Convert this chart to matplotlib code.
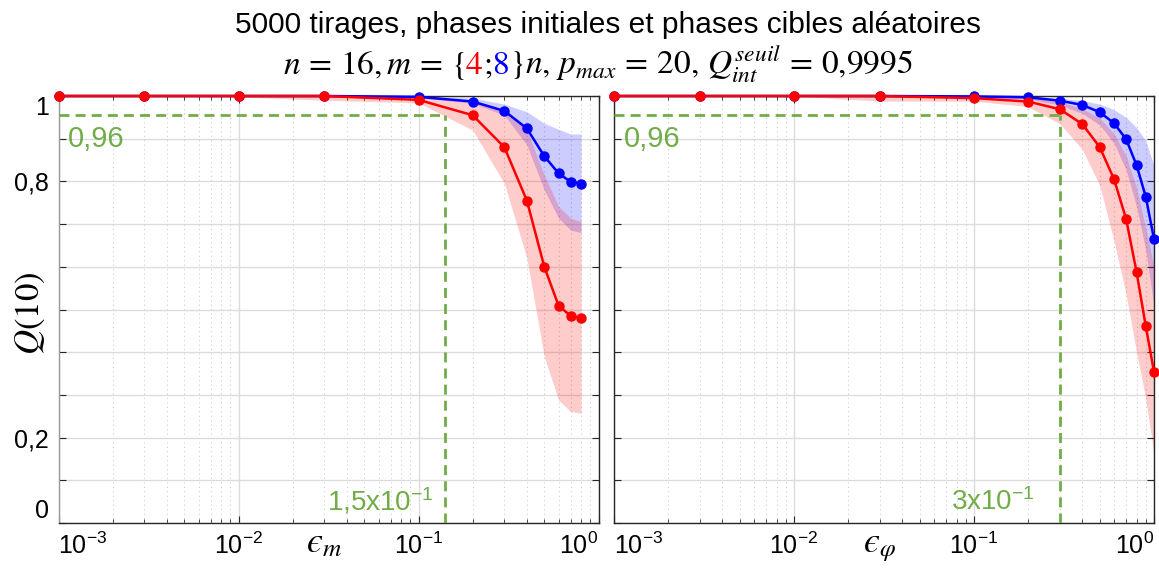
import numpy as np
import matplotlib
matplotlib.use("Agg")
import matplotlib.pyplot as plt
from matplotlib import transforms
from matplotlib.ticker import LogLocator, NullFormatter

plt.rcParams['font.family'] = ['Liberation Sans', 'DejaVu Sans']
plt.rcParams['mathtext.fontset'] = 'stix'

# --- data ---
eps_m = [0.001, 0.003, 0.01, 0.03, 0.1, 0.2, 0.3, 0.4, 0.5, 0.6, 0.7, 0.8]
q_m8 = [1.0, 1.0, 1.0, 1.0, 0.998, 0.987, 0.965, 0.924, 0.859, 0.819, 0.799, 0.795]
q_m8_hi = [1.0, 1.0, 1.0, 1.0, 1.0, 0.995, 0.981, 0.963, 0.936, 0.922, 0.911, 0.911]
q_m8_lo = [1.0, 1.0, 1.0, 0.999, 0.996, 0.983, 0.955, 0.885, 0.780, 0.714, 0.686, 0.680]
q_m4 = [1.0, 1.0, 1.0, 1.0, 0.991, 0.955, 0.880, 0.755, 0.600, 0.509, 0.485, 0.480]
q_m4_hi = [1.0, 1.0, 1.0, 1.0, 0.998, 0.989, 0.967, 0.920, 0.815, 0.741, 0.714, 0.706]
q_m4_lo = [1.0, 1.0, 0.998, 0.99, 0.984, 0.920, 0.795, 0.620, 0.389, 0.288, 0.261, 0.257]

eps_phi = [0.001, 0.003, 0.01, 0.03, 0.1, 0.2, 0.3, 0.4, 0.5, 0.6, 0.7, 0.8, 0.9, 1.0]
p_m8 = [1.0, 1.0, 1.0, 1.0, 0.999, 0.997, 0.989, 0.979, 0.962, 0.936, 0.899, 0.838, 0.764, 0.665]
p_m8_hi = [1.0, 1.0, 1.0, 1.0, 1.0, 0.999, 0.995, 0.989, 0.981, 0.968, 0.950, 0.926, 0.895, 0.836]
p_m8_lo = [1.0, 1.0, 1.0, 1.0, 0.998, 0.993, 0.979, 0.959, 0.932, 0.889, 0.827, 0.741, 0.639, 0.507]
p_m4 = [1.0, 1.0, 1.0, 1.0, 0.995, 0.987, 0.969, 0.934, 0.880, 0.805, 0.712, 0.588, 0.461, 0.354]
p_m4_hi = [1.0, 1.0, 1.0, 1.0, 0.999, 0.996, 0.987, 0.970, 0.948, 0.912, 0.860, 0.785, 0.690, 0.60]
p_m4_lo = [1.0, 1.0, 1.0, 0.988, 0.988, 0.975, 0.935, 0.875, 0.79, 0.66, 0.535, 0.40, 0.29, 0.16]

q_seuil = 0.955          # dashed horizontal level (labelled 0,96)
eps_m_seuil = 0.14       # labelled 1,5x10^-1
eps_phi_seuil = 0.3      # labelled 3x10^-1

x_ticks = [1e-3, 1e-2, 1e-1, 1e0]
x_ticklabels = [r'$\mathregular{10^{-3}}$', r'$\mathregular{10^{-2}}$',
                r'$\mathregular{10^{-1}}$', r'$\mathregular{10^{0}}$']
y_ticks = np.round(np.arange(0, 1.01, 0.1), 1)
y_ticklabels = ['0', '', '0,2', '', '', '', '', '', '0,8', '', '1']

green = '#70AD47'
W, H = 1159, 568
fig = plt.figure(figsize=(W / 100, H / 100), dpi=100)
ax1 = fig.add_axes([58.5 / W, 1 - 523 / H, 540 / W, 427 / H])
ax2 = fig.add_axes([614 / W, 1 - 523 / H, 540 / W, 427 / H])


def draw_panel(ax, x, b, b_hi, b_lo, r, r_hi, r_lo, xs, xs_label, gap, xlab, show_y):
    ax.fill_between(x, b_lo, b_hi, color='blue', alpha=0.2, lw=0)
    ax.fill_between(x, r_lo, r_hi, color='red', alpha=0.2, lw=0)
    ax.plot(x, b, '-o', color='blue', lw=1.8, ms=6.5, clip_on=False, zorder=4)
    ax.plot(x, r, '-o', color='red', lw=1.8, ms=6.5, clip_on=False, zorder=5)

    # threshold lines
    ax.plot([1e-3, xs], [q_seuil, q_seuil], '--', color=green, lw=2, dashes=(3.6, 2.2), zorder=3)
    ax.plot([xs, xs], [0, q_seuil], '--', color=green, lw=2, dashes=(3.6, 2.2), zorder=3)
    ax.text(0.018, 0.9, '0,96', transform=ax.transAxes, color=green,
            fontsize=21, va='center', ha='left')
    ax.annotate(xs_label, xy=(xs, 0), xytext=(-gap, 9), textcoords='offset points',
                color=green, fontsize=20, ha='right', va='baseline')

    ax.set_xscale('log')
    ax.set_xlim(1e-3, 1.0)
    ax.set_ylim(0, 1)
    ax.set_xticks(x_ticks, x_ticklabels)
    ax.xaxis.set_minor_locator(LogLocator(base=10, subs=np.arange(2, 10), numticks=20))
    ax.xaxis.set_minor_formatter(NullFormatter())
    ax.set_yticks(y_ticks, y_ticklabels if show_y else [''] * len(y_ticks))
    ax.tick_params(which='both', direction='in', top=True, right=True,
                   labelsize=18, color='#262626')
    ax.tick_params(which='major', length=5, width=0.8, pad=7)
    ax.tick_params(which='minor', length=3, width=0.6)
    ax.grid(True, which='major', color='#dcdcdc', lw=1)
    ax.grid(True, which='minor', axis='x', color='#cccccc', lw=0.8, ls=(0, (1, 3)))
    ax.set_axisbelow(True)
    for s in ax.spines.values():
        s.set_color('#262626')
        s.set_linewidth(1)

    # end tick labels kept inside the axis extent
    xt = ax.xaxis.get_major_ticks()
    xt[0].label1.set_horizontalalignment('left')
    xt[-1].label1.set_horizontalalignment('right')
    if show_y:
        yt = ax.yaxis.get_major_ticks()
        yt[0].label1.set_verticalalignment('bottom')
        yt[-1].label1.set_verticalalignment('top')

    tr = transforms.blended_transform_factory(ax.transData, ax.transAxes)
    ax.text(0.03, -0.068, xlab, transform=tr, fontsize=26, ha='center', va='baseline')


draw_panel(ax1, eps_m, q_m8, q_m8_hi, q_m8_lo, q_m4, q_m4_hi, q_m4_lo,
           eps_m_seuil, r'1,5x$\mathregular{10^{-1}}$', 8, r'$ϵ_m$', True)
draw_panel(ax2, eps_phi, p_m8, p_m8_hi, p_m8_lo, p_m4, p_m4_hi, p_m4_lo,
           eps_phi_seuil, r'3x$\mathregular{10^{-1}}$', 18, r'$ϵ_φ$', False)
ax1.spines['left'].set_color('#9a9a9a')
ax1.text(-0.052, 0.49, r'$Q(10)$', transform=ax1.transAxes, rotation=90,
         fontsize=25, ha='center', va='center')

# title
fig.text(608 / W, 1 - 25 / H, '5000 tirages, phases initiales et phases cibles aléatoires',
         ha='center', va='center', fontsize=21.5)

pieces = [(r'$n\,=\,16,m\,=\,\{$', 'black'), (r'$4$', 'red'), (r'$;\,$', 'black'),
          (r'$8$', 'blue'), (r'$\}n,\,p_{max}\,=\,20,\,Q_{int}^{seuil}\,=\,0{,}9995$', 'black')]
renderer = fig.canvas.get_renderer()
texts = []
for s, c in pieces:
    t = fig.text(0, 1 - 74 / H, s, color=c, fontsize=24, ha='left', va='baseline')
    texts.append(t)
widths = [t.get_window_extent(renderer).width for t in texts]
x0 = 598 - sum(widths) / 2
for t, w in zip(texts, widths):
    t.set_x(x0 / W)
    x0 += w

fig.savefig('out.png', dpi=100)
